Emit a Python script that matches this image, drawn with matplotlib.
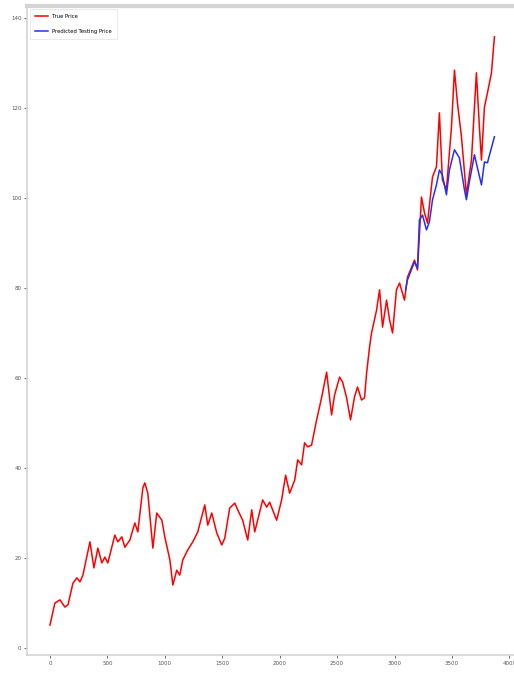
import matplotlib
matplotlib.use("Agg")
import matplotlib.pyplot as plt

# Daily closing price (sampled) over the full history
true_idx = [0, 43, 87, 130, 157, 200, 235, 261, 287, 348, 383, 417, 452, 478, 504,
            565, 591, 626, 652, 696, 739, 765, 809, 826, 852, 896, 930, 974, 1000,
            1044, 1070, 1104, 1130, 1157, 1200, 1244, 1287, 1348, 1374, 1409, 1452,
            1496, 1522, 1565, 1609, 1635, 1678, 1722, 1757, 1783, 1826, 1852, 1887,
            1913, 1974, 2017, 2052, 2087, 2131, 2157, 2191, 2217, 2244, 2278, 2322,
            2365, 2409, 2452, 2478, 2522, 2548, 2583, 2617, 2652, 2678, 2713, 2739,
            2757, 2783, 2800, 2844, 2870, 2896, 2931, 2957, 2983, 3017, 3044, 3087,
            3113, 3174, 3200, 3235, 3261, 3287, 3331, 3365, 3391, 3417, 3452, 3496,
            3522, 3548, 3583, 3626, 3670, 3713, 3739, 3757, 3783, 3809, 3844, 3870]
true_price = [5.1, 10.0, 10.7, 9.1, 9.6, 14.4, 15.6, 14.7, 16.2, 23.6, 17.8, 22.2, 18.9,
              20.2, 18.9, 25.1, 23.6, 24.7, 22.4, 24.0, 27.8, 25.8, 35.6, 36.7, 34.4,
              22.2, 30.0, 28.4, 24.7, 19.6, 14.0, 17.3, 16.2, 19.6, 21.8, 23.6, 25.8,
              31.8, 27.3, 30.0, 25.6, 22.9, 24.4, 31.1, 32.2, 30.7, 28.4, 24.0, 30.7,
              25.8, 30.2, 32.9, 31.3, 32.4, 28.4, 32.9, 38.4, 34.4, 37.3, 41.8, 40.7,
              45.6, 44.7, 45.1, 50.7, 55.6, 61.3, 51.8, 56.2, 60.2, 59.1, 55.6, 50.7,
              55.8, 58.0, 55.1, 55.6, 61.1, 66.9, 70.0, 75.1, 79.6, 71.3, 77.3, 72.9,
              70.0, 79.6, 81.1, 77.3, 82.4, 86.2, 84.0, 100.2, 96.7, 94.4, 104.7, 106.9,
              118.9, 104.0, 101.8, 115.8, 128.4, 121.1, 113.6, 100.7, 108.4, 127.8,
              115.8, 108.4, 120.2, 123.3, 127.8, 135.8]

# Model output on the held-out test period
pred_idx = [3096, 3113, 3174, 3200, 3217, 3244, 3278, 3304, 3331, 3365, 3391, 3417,
            3452, 3478, 3522, 3565, 3609, 3626, 3652, 3696, 3722, 3757, 3783, 3809, 3870]
pred_price = [79.6, 81.8, 85.8, 84.4, 95.1, 96.2, 92.9, 94.7, 99.6, 102.9, 106.2, 105.1,
              100.7, 106.2, 110.7, 108.9, 101.8, 99.6, 103.6, 109.6, 106.7, 102.9, 108.0,
              107.8, 113.6]

x_ticks = [0, 500, 1000, 1500, 2000, 2500, 3000, 3500, 4000]
y_ticks = [0, 20, 40, 60, 80, 100, 120, 140]

fig = plt.figure(figsize=(5.14, 6.89), dpi=100)
ax = fig.add_axes([0.0525, 0.049, 0.953, 0.942])

ax.plot(true_idx, true_price, color="red", lw=1.1, label="True Price")
ax.plot(pred_idx, pred_price, color="#2233ee", lw=1.1, label="Predicted Testing Price")

ax.set_xlim(-200, 4065)
ax.set_ylim(-1.6, 142.6)
ax.set_xticks(x_ticks)
ax.set_yticks(y_ticks)
ax.tick_params(labelsize=4, colors="#555555", length=2, width=0.6, pad=2)

for side, sp in ax.spines.items():
    sp.set_color("#d4d4d4")
    sp.set_linewidth(1.2)
ax.spines["top"].set_linewidth(3.0)
ax.spines["right"].set_visible(False)

leg = ax.legend(loc="upper left", fontsize=3.8, labelspacing=1.8,
                handlelength=2.4, borderpad=1.0, frameon=True, fancybox=False)
leg.get_frame().set_edgecolor("#e0e0e0")
leg.get_frame().set_linewidth(0.6)

fig.savefig("out.png", dpi=100)
